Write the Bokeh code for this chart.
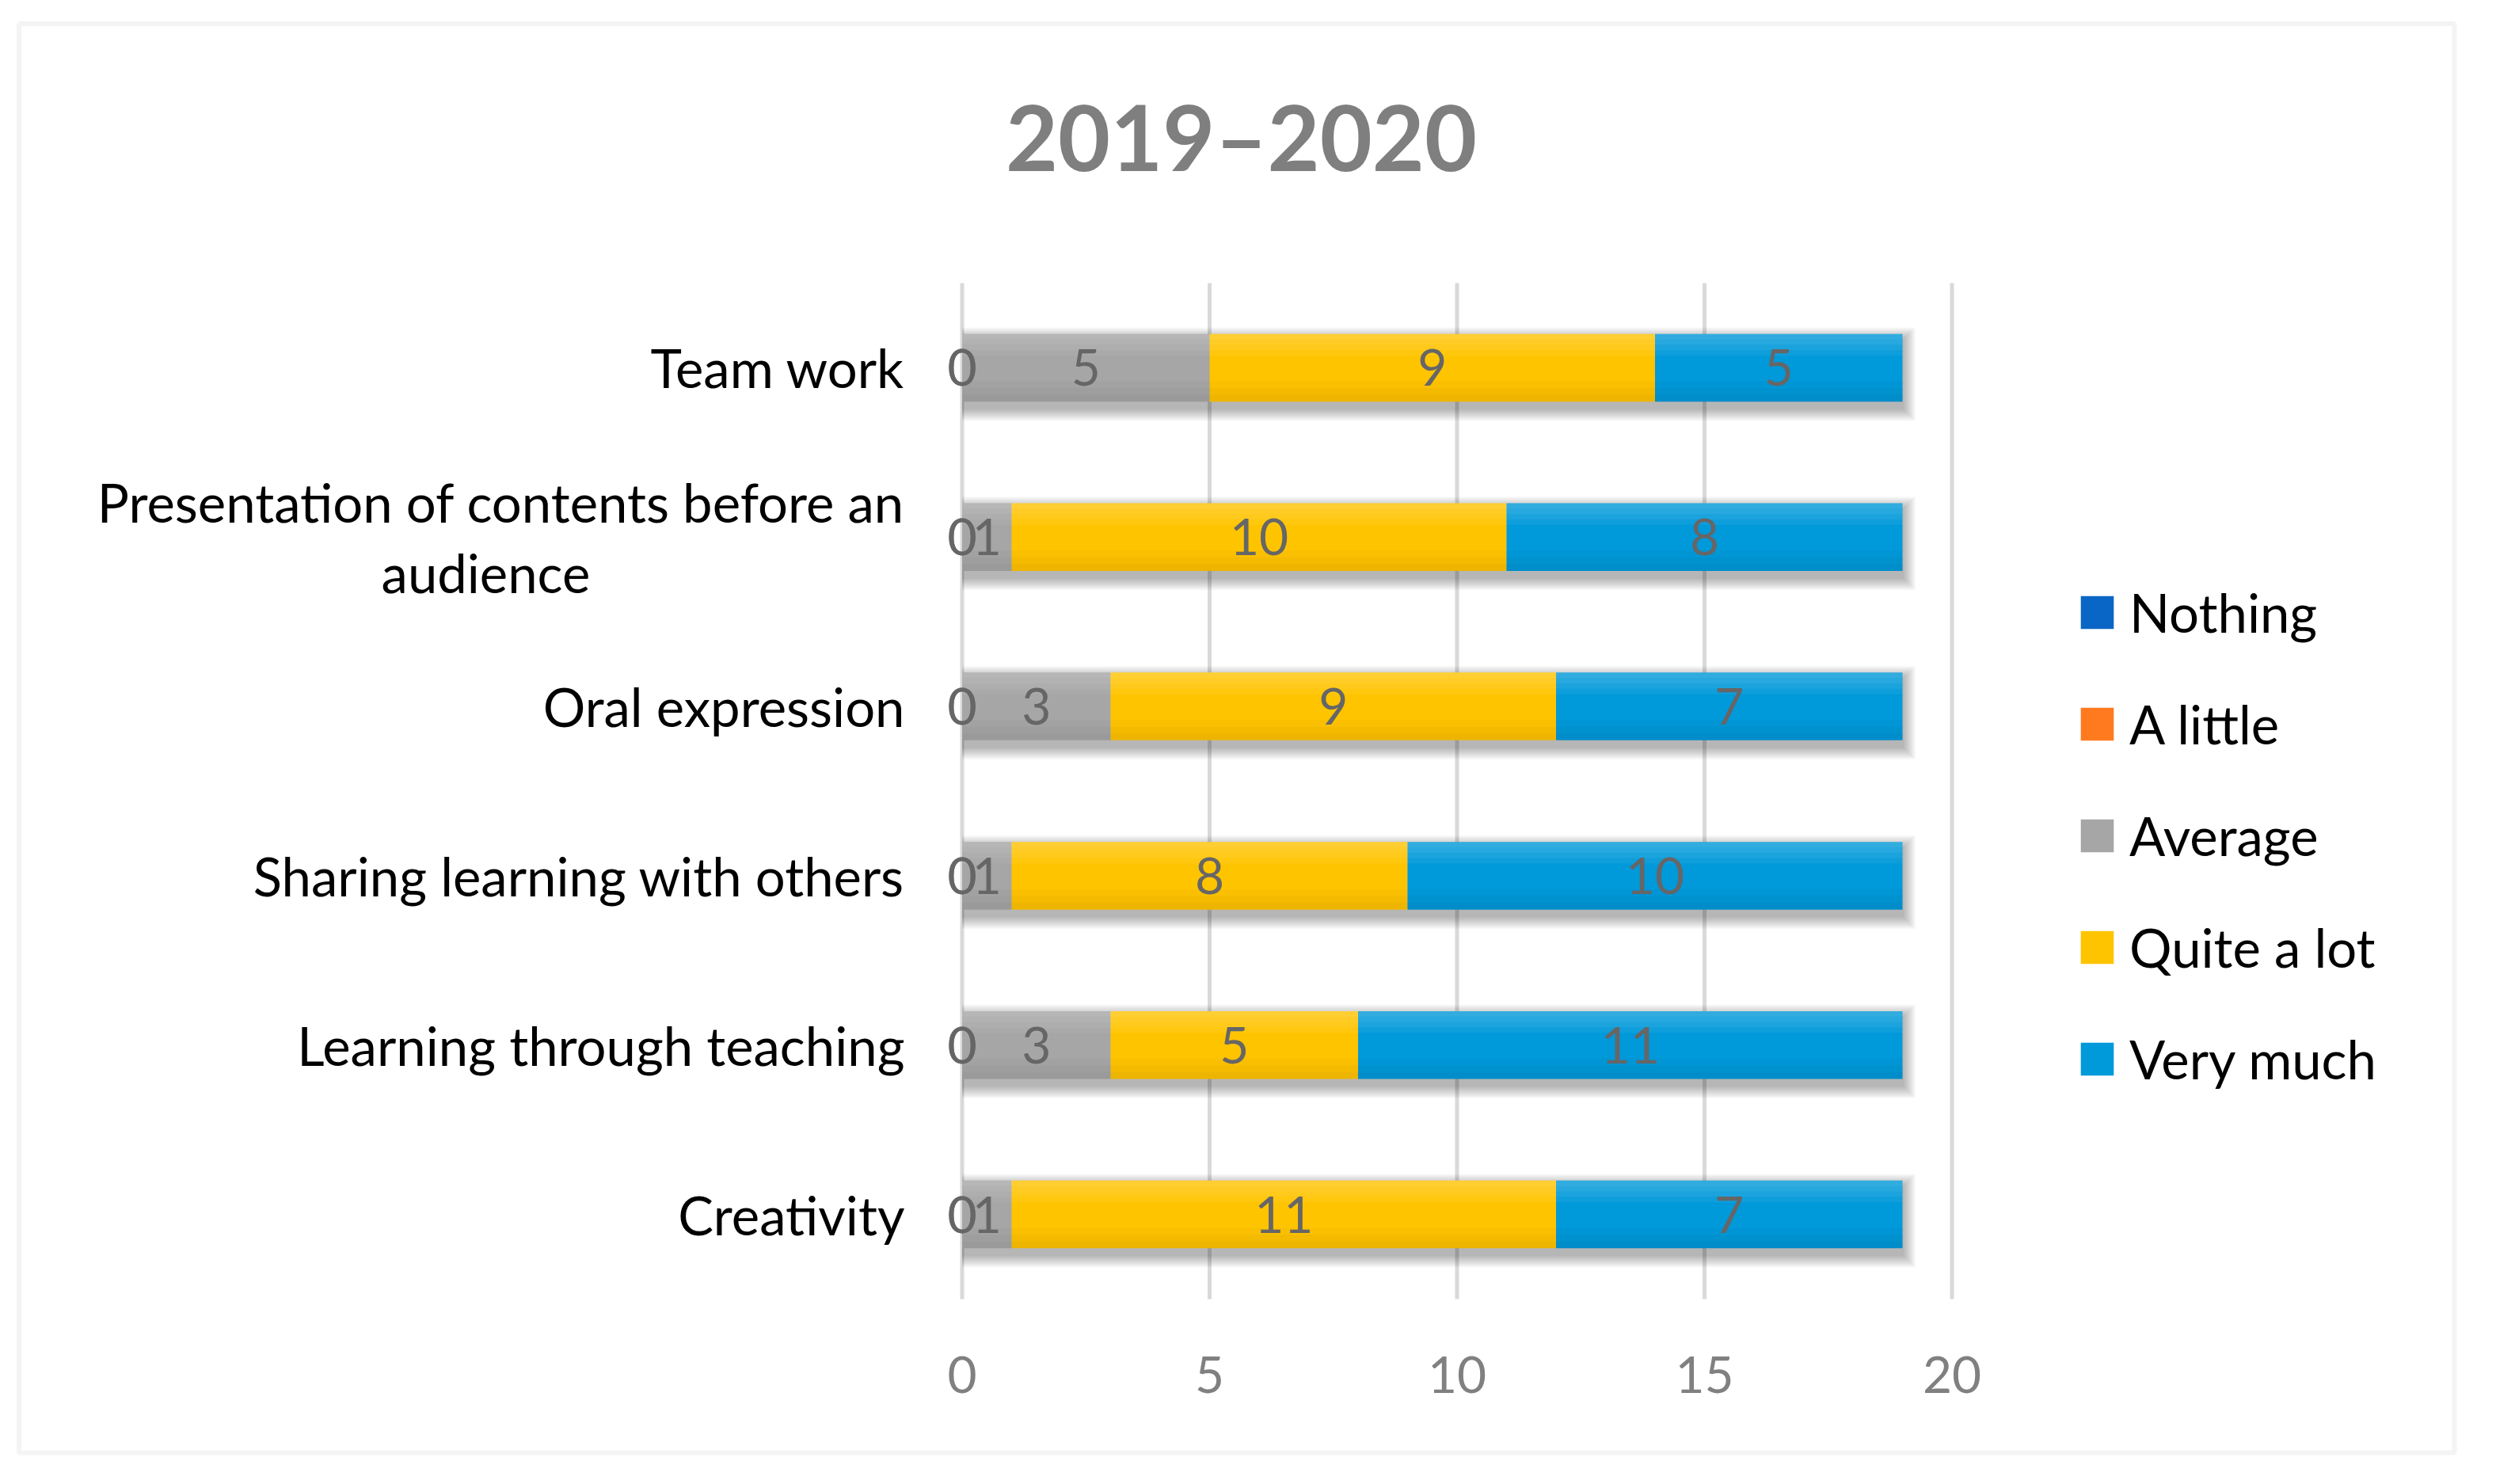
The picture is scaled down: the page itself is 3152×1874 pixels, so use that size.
from bokeh.plotting import figure
from bokeh.models import (ColumnDataSource, Range1d, Legend, LegendItem, BoxAnnotation)
from bokeh.core.properties import value
from bokeh.embed import file_html
from bokeh.resources import INLINE

# ---------------- data ----------------
title_text = "2019–2020"
categories = ["Creativity", "Learning through teaching", "Sharing learning with others",
              "Oral expression", "Presentation of contents before an audience", "Team work"]
category_lines = {"Presentation of contents before an audience":
                  ["Presentation of contents before an", "audience"]}
series_names = ["Nothing", "A little", "Average", "Quite a lot", "Very much"]
nothing = [0, 0, 0, 0, 0, 0]
a_little = [0, 0, 0, 0, 0, 0]
average = [1, 3, 1, 3, 1, 5]
quite_a_lot = [11, 5, 8, 9, 10, 9]
very_much = [7, 11, 10, 7, 8, 5]
x_ticks = [0, 5, 10, 15, 20]

# ---------------- layout / style ----------------
FONT = "Lato"
colors = ["#0A66C6", "#FF7A1E", "#A6A6A6", "#FFC400", "#0099DA"]
W, H = 3136, 1858
PX_X = 62.5            # pixels per x unit
PX_Y = 1283 / 6        # pixels per category band
X0_FIG = 1214.5        # figure pixel of x = 0
PLOT_TOP_FIG = 357     # figure pixel of top of plotting area
PLOT_BOT_FIG = 1640    # figure pixel of bottom of plotting area
BAR_H = 0.4
n = len(categories)

x_start = -X0_FIG / PX_X
x_end = x_start + W / PX_X
y_start = -(H - PLOT_BOT_FIG) / PX_Y
y_end = n + PLOT_TOP_FIG / PX_Y

p = figure(width=W, height=H, x_range=Range1d(x_start, x_end), y_range=Range1d(y_start, y_end),
           output_backend="svg", toolbar_location=None,
           x_axis_location=None, y_axis_location=None, min_border=0)
p.outline_line_color = None
p.grid.visible = False
p.background_fill_color = "white"
p.border_fill_color = "white"

ypos = [i + 0.5 for i in range(n)]

# vertical gridlines spanning the plotting area
p.segment(x0=x_ticks, x1=x_ticks, y0=[0] * len(x_ticks), y1=[n] * len(x_ticks),
          line_color="#D9D9D9", line_width=5)

# x tick labels
p.text(x=x_ticks, y=[-95 / PX_Y] * len(x_ticks), text=[str(t) for t in x_ticks],
       text_font=value(FONT), text_font_size="64px", text_color="#808080",
       text_align="center", text_baseline="middle")

keys = ["nothing", "a_little", "average", "quite", "very"]
series = [nothing, a_little, average, quite_a_lot, very_much]
data = dict(y=ypos)
for k, s in zip(keys, series):
    data[k] = s
totals = [sum(vals) for vals in zip(*series)]
source = ColumnDataSource(data)

# soft shadows under the bars
for ext in [2, 4, 6, 8, 10, 12, 14, 16]:
    sh = ColumnDataSource(dict(y=[v - 8 / PX_Y for v in ypos],
                               right=[t + ext / PX_X for t in totals]))
    p.hbar(y="y", left=0, right="right", height=BAR_H + 2 * ext / PX_Y, source=sh,
           fill_color="black", fill_alpha=0.04, line_color=None)

# stacked bars
renderers = p.hbar_stack(keys, y="y", height=BAR_H, source=source,
                         fill_color=colors, line_color=None)

# subtle vertical shading on the bars (lighter top, darker bottom)
for frac in [0.32, 0.24, 0.16, 0.08]:
    hh = BAR_H * frac
    src = ColumnDataSource(dict(y=[v + BAR_H / 2 - hh / 2 for v in ypos], right=totals))
    p.hbar(y="y", left=0, right="right", height=hh, source=src,
           fill_color="white", fill_alpha=0.055, line_color=None)
for frac in [0.3, 0.2, 0.1]:
    hh = BAR_H * frac
    src = ColumnDataSource(dict(y=[v - BAR_H / 2 + hh / 2 for v in ypos], right=totals))
    p.hbar(y="y", left=0, right="right", height=hh, source=src,
           fill_color="black", fill_alpha=0.022, line_color=None)

# data labels
lx, ly, lt = [], [], []
for i in range(n):
    left = 0
    for s in series:
        v = s[i]
        lx.append(left + v / 2)
        ly.append(ypos[i])
        lt.append(str(v))
        left += v
p.text(x="x", y="y", text="t", source=ColumnDataSource(dict(x=lx, y=ly, t=lt)),
       text_font=value(FONT), text_font_size="64px", text_color="#666666",
       text_align="center", text_baseline="middle")

# category labels
label_x = -72.5 / PX_X
cx, cy, ct, ca = [], [], [], []
for i, cat in enumerate(categories):
    if cat in category_lines:
        l1, l2 = category_lines[cat]
        cx += [label_x, label_x - 529 / PX_X]
        cy += [ypos[i] + 44 / PX_Y, ypos[i] - 45 / PX_Y]
        ct += [l1, l2]
        ca += ["right", "center"]
    else:
        cx.append(label_x)
        cy.append(ypos[i])
        ct.append(cat)
        ca.append("right")
p.text(x="x", y="y", text="t", text_align="a",
       source=ColumnDataSource(dict(x=cx, y=cy, t=ct, a=ca)),
       text_font=value(FONT), text_font_size="67px", text_color="black",
       text_baseline="middle")

# title
p.text(x=[352.5 / PX_X], y=[n + 186 / PX_Y], text=[title_text],
       text_font=value(FONT), text_font_style="bold", text_font_size="114px",
       text_color="#7F7F7F", text_align="center", text_baseline="middle")

# legend
legend = Legend(items=[LegendItem(label=nm, renderers=[r]) for nm, r in zip(series_names, renderers)],
                location=(2622, 475), orientation="vertical",
                glyph_width=52, glyph_height=52, label_height=93, spacing=48,
                label_standoff=15, padding=0, margin=0,
                label_text_font=FONT, label_text_font_size="67px",
                label_text_baseline="alphabetic", label_text_color="black",
                border_line_color=None, background_fill_alpha=0)
p.add_layout(legend)

# outer chart border
p.add_layout(BoxAnnotation(left=23.5, right=3099, top=1828.5, bottom=24,
                           left_units="screen", right_units="screen",
                           top_units="screen", bottom_units="screen",
                           fill_alpha=0, line_color="#D9D9D9", line_width=6))

open("out.html", "w").write(file_html(p, INLINE))
